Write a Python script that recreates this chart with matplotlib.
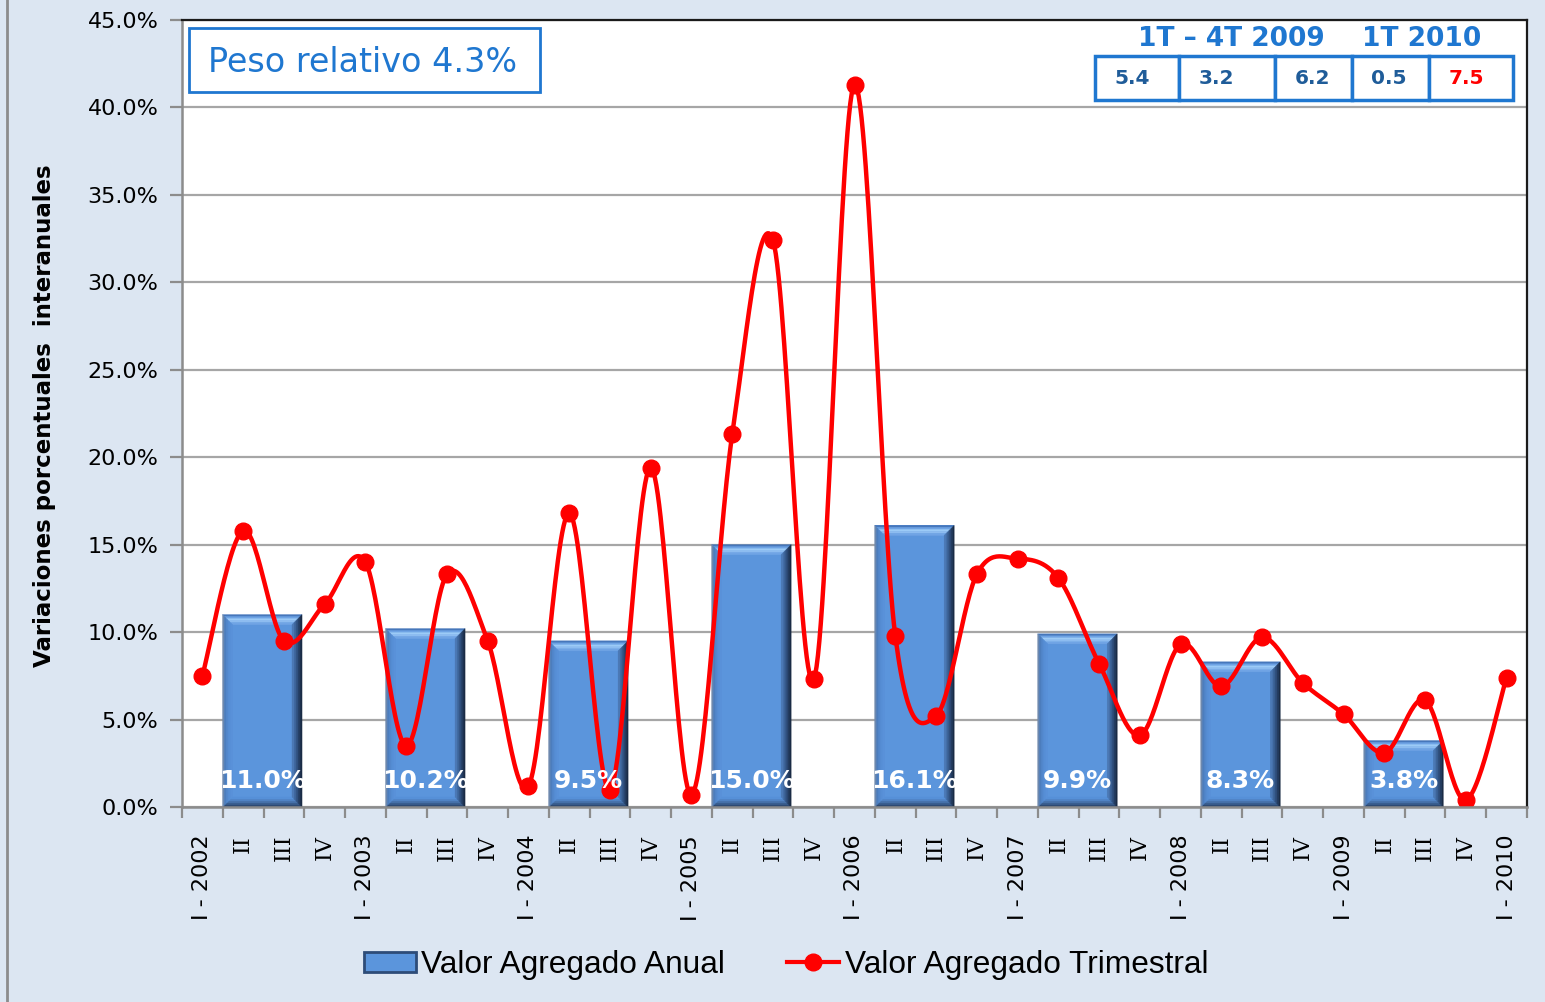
import matplotlib
matplotlib.use("Agg")
import matplotlib.pyplot as plt
import numpy as np
from matplotlib.patches import Rectangle, Polygon, Patch
from matplotlib.lines import Line2D
from matplotlib.ticker import FixedLocator, FuncFormatter

# ---------------- data ----------------
years = [2002, 2003, 2004, 2005, 2006, 2007, 2008, 2009, 2010]
quarters = ["I", "II", "III", "IV"]
quarterly = [7.5, 15.8, 9.5, 11.6,
             14.0, 3.5, 13.3, 9.5,
             1.2, 16.8, 1.0, 19.4,
             0.7, 21.3, 32.4, 7.3,
             41.3, 9.8, 5.2, 13.3,
             14.2, 13.1, 8.2, 4.1,
             9.3, 6.9, 9.7, 7.1,
             5.3, 3.1, 6.1, 0.4,
             7.4]
annual_years = [2002, 2003, 2004, 2005, 2006, 2007, 2008, 2009]
annual = [11.0, 10.2, 9.5, 15.0, 16.1, 9.9, 8.3, 3.8]
annual_labels = ["11.0%", "10.2%", "9.5%", "15.0%", "16.1%", "9.9%", "8.3%", "3.8%"]
table_headers = ["1T \u2013 4T 2009", "1T 2010"]
table_values = ["5.4", "3.2", "6.2", "0.5", "7.5"]
peso_text = "Peso relativo 4.3%"
legend_labels = ["Valor Agregado Anual", "Valor Agregado Trimestral"]

# tick labels
xlabels = []
for i in range(len(quarterly)):
    y = years[i // 4]
    q = quarters[i % 4]
    xlabels.append(f"I - {y}" if q == "I" else q)

W, H = 1545, 1002
fig = plt.figure(figsize=(W / 100, H / 100), dpi=100)
fig.patch.set_facecolor("#dce6f2")

def fx(px):
    return px / W

def fy(py):
    return 1 - py / H

ax = fig.add_axes([fx(182), fy(807), fx(1527) - fx(182), fy(20) - fy(807)])
ax.set_facecolor("white")
n = len(quarterly)
x = np.arange(n)
ax.set_xlim(-0.5, n - 0.5)
ax.set_ylim(0, 45)

# grid
ax.set_yticks(np.arange(0, 45.1, 5))
ax.yaxis.set_major_formatter(FuncFormatter(lambda v, p: f"{v:.1f}%"))
ax.grid(axis="y", color="#a6a6a6", lw=1.6, zorder=0)
ax.set_axisbelow(True)

# bars (annual), positioned over quarters II-III of each year
bar_x = [(yy - 2002) * 4 + 1.47 for yy in annual_years]
bars = ax.bar(bar_x, annual, width=1.95, color="#5b95dc", edgecolor="none", zorder=2)

# bevel effect (stepped gradient frames)
pxx = n / (1527 - 182)        # data units per pixel in x
pxy = 45 / (807 - 20)         # data units per pixel in y
bevel_cols = {
    "top":    ["#4677bb", "#6ea3e4", "#9ccbf7", "#8dbcf0", "#70a4e5"],
    "left":   ["#6d88ad", "#4c7dbd", "#5287cc", "#568ed5", "#5991d9"],
    "right":  ["#1a2b45", "#243c60", "#30507e", "#3d6499", "#4b78b4"],
    "bottom": ["#2b466d", "#375a8a", "#4570a8", "#5083c4", "#5690d8"],
}
t = 2.0
for b in bars:
    x0, w, h = b.get_x(), b.get_width(), b.get_height()
    x1 = x0 + w
    for k in range(5):
        a, c = k * t, (k + 1) * t
        ax_, cx_ = a * pxx, c * pxx
        ay_, cy_ = a * pxy, c * pxy
        polys = {
            "top": [[x0 + ax_, h - ay_], [x1 - ax_, h - ay_], [x1 - cx_, h - cy_], [x0 + cx_, h - cy_]],
            "bottom": [[x0 + ax_, ay_], [x1 - ax_, ay_], [x1 - cx_, cy_], [x0 + cx_, cy_]],
            "left": [[x0 + ax_, ay_], [x0 + ax_, h - ay_], [x0 + cx_, h - cy_], [x0 + cx_, cy_]],
            "right": [[x1 - ax_, ay_], [x1 - ax_, h - ay_], [x1 - cx_, h - cy_], [x1 - cx_, cy_]],
        }
        for side in ["top", "bottom", "left", "right"]:
            ax.add_patch(Polygon(polys[side], closed=True, facecolor=bevel_cols[side][k],
                                 edgecolor=bevel_cols[side][k], lw=0.3, zorder=3))

# smoothed line (Bezier smoothing like Excel)
def smooth(xs, ys, steps=30):
    P = np.column_stack([xs, ys]).astype(float)
    out = []
    for i in range(len(P) - 1):
        p0 = P[i - 1] if i > 0 else P[i]
        p1 = P[i]
        p2 = P[i + 1]
        p3 = P[i + 2] if i + 2 < len(P) else P[i + 1]
        c1 = p1 + (p2 - p0) / 6
        c2 = p2 - (p3 - p1) / 6
        tt = np.linspace(0, 1, steps)[:, None]
        seg = ((1 - tt) ** 3) * p1 + 3 * ((1 - tt) ** 2) * tt * c1 + 3 * (1 - tt) * tt ** 2 * c2 + tt ** 3 * p2
        out.append(seg if i == 0 else seg[1:])
    S = np.vstack(out)
    return S[:, 0], S[:, 1]

sx, sy = smooth(x, quarterly)
ax.plot(sx, sy, color="#ff0000", lw=3.2, zorder=5, solid_capstyle="round")
ax.plot(x, quarterly, "o", color="#ff0000", ms=12, zorder=6)

# bar labels
for b, lab in zip(bars, annual_labels):
    ax.text(b.get_x() + b.get_width() / 2, 1.5, lab, ha="center", va="center",
            color="white", fontsize=18, fontweight="bold", zorder=7)

# ticks
ax.set_xticks(x)
ax.set_xticklabels(xlabels, rotation=90, fontsize=16, va="top", ha="center")
for lab in ax.get_xticklabels():
    if not lab.get_text().startswith("I - "):
        lab.set_family("DejaVu Serif")
ax.xaxis.set_minor_locator(FixedLocator(np.arange(-0.5, n, 1)))
ax.tick_params(axis="x", which="major", length=0, pad=20)
ax.tick_params(axis="x", which="minor", length=8, width=1.6, color="#8c8c8c")
ax.tick_params(axis="y", which="major", length=9, width=1.6, color="#8c8c8c", labelsize=16, pad=8)

for side in ["top", "right"]:
    ax.spines[side].set_color("#1a1a1a")
    ax.spines[side].set_linewidth(1.6)
for side in ["left", "bottom"]:
    ax.spines[side].set_color("#8c8c8c")
    ax.spines[side].set_linewidth(1.8)
ax.spines["bottom"].set_zorder(8)

# y label
fig.text(fx(45), fy(416), "Variaciones porcentuales  interanuales", rotation=90,
         ha="center", va="center", fontsize=16.5, fontweight="bold")

# left border line of the chart area
fig.add_artist(Line2D([fx(7), fx(7)], [0, 1], color="#8c8c8c", lw=2, transform=fig.transFigure))

# Peso relativo box
fig.add_artist(Rectangle((fx(189), fy(92)), fx(540) - fx(189), fy(28) - fy(92),
                         transform=fig.transFigure, facecolor="white", edgecolor="#1f77d0", lw=2, zorder=10))
fig.text(fx(363), fy(62), peso_text, ha="center", va="center", fontsize=24, color="#1f77d0", zorder=11)

# table top right
fig.text(fx(1231), fy(39), table_headers[0], ha="center", va="center", fontsize=19,
         fontweight="bold", color="#1f77d0", zorder=11)
fig.text(fx(1422), fy(39), table_headers[1], ha="center", va="center", fontsize=19,
         fontweight="bold", color="#1f77d0", zorder=11)
cell_edges = [1095, 1179, 1275, 1352, 1429, 1513]
text_cx = [1132, 1216, 1313, 1389, 1466]
for i, val in enumerate(table_values):
    l, r = cell_edges[i], cell_edges[i + 1]
    fig.add_artist(Rectangle((fx(l), fy(100)), fx(r) - fx(l), fy(56) - fy(100),
                             transform=fig.transFigure, facecolor="white", edgecolor="#1f77d0", lw=2.5, zorder=10))
    fig.text(fx(text_cx[i]), fy(79), val, ha="center", va="center", fontsize=14.5, fontweight="bold",
             color="#ff0000" if i == len(table_values) - 1 else "#1f5c99", zorder=11)

# legend
h_bar = Patch(facecolor="#5b95dc", edgecolor="#2d4c78", lw=2)
h_line = Line2D([], [], color="#ff0000", lw=3, marker="o", ms=12)
fig.legend([h_bar, h_line], legend_labels,
           loc="center", bbox_to_anchor=(fx(786), fy(965)), ncol=2, frameon=False,
           prop={"family": ["Liberation Sans", "DejaVu Sans"], "size": 22.8},
           handlelength=1.65, handleheight=0.6, handletextpad=0.17, columnspacing=1.95)

fig.savefig("out.png", dpi=100, facecolor=fig.get_facecolor())
